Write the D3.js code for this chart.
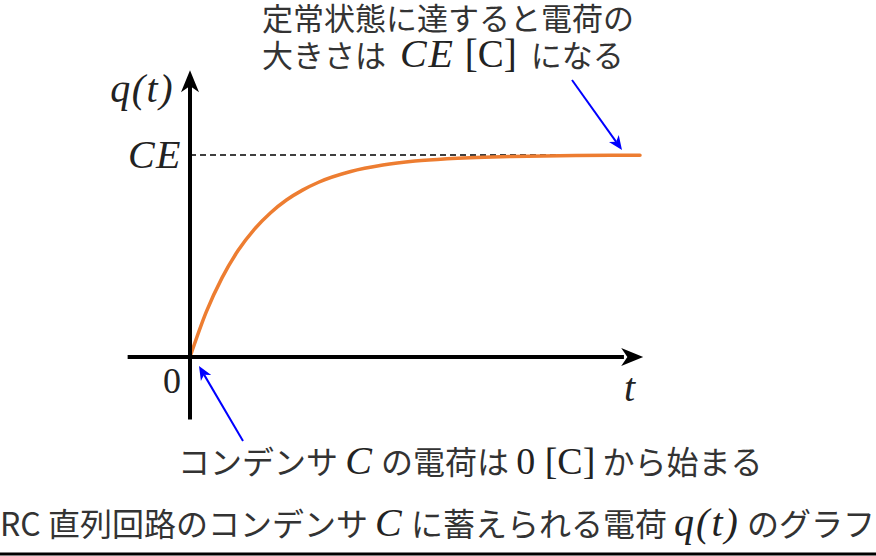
<!DOCTYPE html>
<html>
<head>
<meta charset="utf-8">
<script src="https://cdn.jsdelivr.net/npm/d3@7"></script>
<style>
  html, body { margin: 0; padding: 0; background: #fff; }
  svg { display: block; }
</style>
</head>
<body>
<div id="chart"></div>
<script>
// values: time in units of RC, charge as a fraction of CE
const tValues = [0, 0.25, 0.5, 0.75, 1, 1.25, 1.5, 1.75, 2, 2.5, 3, 3.5, 4, 5, 6, 7];
const qValues = [0, 0.221, 0.393, 0.528, 0.632, 0.713, 0.777, 0.826, 0.865, 0.918, 0.950, 0.970, 0.982, 0.993, 0.998, 0.999];
const steadyValue = 1;
const tDomain = [0, 7];
const qDomain = [0, 1];

const topNote = ["定常状態に達すると電荷の", "大きさは", "CE", "[C]", "になる"];
const bottomNote = ["コンデンサ", "C", "の電荷は", "0", "[C]", "から始まる"];
const caption = ["RC 直列回路のコンデンサ", "C", "に蓄えられる電荷", "q(t)", "のグラフ"];

const W = 876, H = 556;
const jp = "'Noto Sans CJK JP', 'Noto Sans', sans-serif";
const math = "'Liberation Serif', 'DejaVu Serif', serif";
const textColor = "#333";

const svg = d3.select("#chart").append("svg")
  .attr("width", W)
  .attr("height", H);

const x = d3.scaleLinear().domain(tDomain).range([190, 640]);
const y = d3.scaleLinear().domain(qDomain).range([357, 155]);

// steady state dashed line
svg.append("line")
  .attr("x1", x(0)).attr("x2", x(7))
  .attr("y1", y(steadyValue)).attr("y2", y(steadyValue))
  .attr("stroke", "#000")
  .attr("stroke-width", 1.6)
  .attr("stroke-dasharray", "6,4");

// charge curve
const points = tValues.map((t, i) => [t, qValues[i]]);
const line = d3.line()
  .x(d => x(d[0]))
  .y(d => y(d[1]))
  .curve(d3.curveMonotoneX);
svg.append("path")
  .datum(points)
  .attr("d", line)
  .attr("fill", "none")
  .attr("stroke", "#ED7D31")
  .attr("stroke-width", 3.5)
  .attr("stroke-linecap", "round");

// axes
const axisW = 4;
svg.append("line")
  .attr("x1", x(-0.97)).attr("x2", x(6.75))
  .attr("y1", y(0)).attr("y2", y(0))
  .attr("stroke", "#000").attr("stroke-width", axisW);
svg.append("line")
  .attr("x1", x(0)).attr("x2", x(0))
  .attr("y1", y(-0.31)).attr("y2", y(1.35))
  .attr("stroke", "#000").attr("stroke-width", axisW);

function arrowHead(tipX, tipY, angle, len, half, color) {
  // angle: direction the arrow points (radians)
  const ca = Math.cos(angle), sa = Math.sin(angle);
  const p = (a, b) => [tipX - a * ca + b * sa, tipY - a * sa - b * ca];
  const pts = [p(0, 0), p(len, half), p(len * 0.72, 0), p(len, -half)];
  svg.append("path")
    .attr("d", "M" + pts.map(q => q.join(",")).join("L") + "Z")
    .attr("fill", color);
}
arrowHead(x(7.05), y(0), 0, 22, 9, "#000");
arrowHead(x(0), y(1.42), -Math.PI / 2, 22, 9, "#000");

// blue annotation arrows
function blueArrow(x1, y1, x2, y2) {
  const ang = Math.atan2(y2 - y1, x2 - x1);
  svg.append("line")
    .attr("x1", x1).attr("y1", y1)
    .attr("x2", x2 - 10 * Math.cos(ang)).attr("y2", y2 - 10 * Math.sin(ang))
    .attr("stroke", "#0000ff").attr("stroke-width", 2);
  arrowHead(x2, y2, ang, 14, 6, "#0000ff");
}
blueArrow(572, 80, 622, 150);
blueArrow(243, 441, 199, 366);

// axis labels
function mathLabel(tx, ty, str, italic, size, anchor) {
  svg.append("text")
    .attr("x", tx).attr("y", ty)
    .attr("text-anchor", anchor || "start")
    .attr("font-family", math)
    .attr("font-style", italic ? "italic" : "normal")
    .attr("font-size", size)
    .attr("letter-spacing", italic ? 1.5 : 0)
    .attr("fill", "#222")
    .text(str);
}
mathLabel(174, 102, "q(t)", true, 40, "end");
mathLabel(182, 168, "CE", true, 40, "end");
mathLabel(181, 393, "0", false, 36, "end");
mathLabel(624, 401, "t", true, 40, "start");

// mixed text lines
function mixed(tx, ty, parts, anchor) {
  const t = svg.append("text")
    .attr("x", tx).attr("y", ty)
    .attr("text-anchor", anchor || "start")
    .attr("fill", textColor);
  parts.forEach(p => {
    t.append("tspan")
      .attr("font-family", p.m ? math : jp)
      .attr("font-style", p.i ? "italic" : "normal")
      .attr("font-size", p.s)
      .attr("letter-spacing", p.i ? 2 : 0)
      .attr("fill", p.m ? "#222" : textColor)
      .attr("xml:space", "preserve")
      .text(p.t);
  });
  return t;
}

mixed(262, 30, [{ t: topNote[0], s: 31 }]);
mixed(262, 67, [
  { t: topNote[1] + "  ", s: 31 },
  { t: topNote[2], s: 40, m: true, i: true },
  { t: " " + topNote[3], s: 39, m: true },
  { t: "  " + topNote[4], s: 31 }
]);

mixed(178, 474, [
  { t: bottomNote[0] + " ", s: 32 },
  { t: bottomNote[1], s: 40, m: true, i: true },
  { t: " " + bottomNote[2] + " ", s: 32 },
  { t: bottomNote[3] + " " + bottomNote[4], s: 38, m: true },
  { t: " " + bottomNote[5], s: 32 }
]);

mixed(0, 536, [
  { t: caption[0] + " ", s: 32 },
  { t: caption[1], s: 40, m: true, i: true },
  { t: " " + caption[2] + " ", s: 32 },
  { t: caption[3], s: 40, m: true, i: true },
  { t: " " + caption[4], s: 32 }
]);

// underline at the bottom
svg.append("line")
  .attr("x1", 0).attr("x2", W)
  .attr("y1", 554).attr("y2", 554)
  .attr("stroke", "#000").attr("stroke-width", 3);
</script>
</body>
</html>
